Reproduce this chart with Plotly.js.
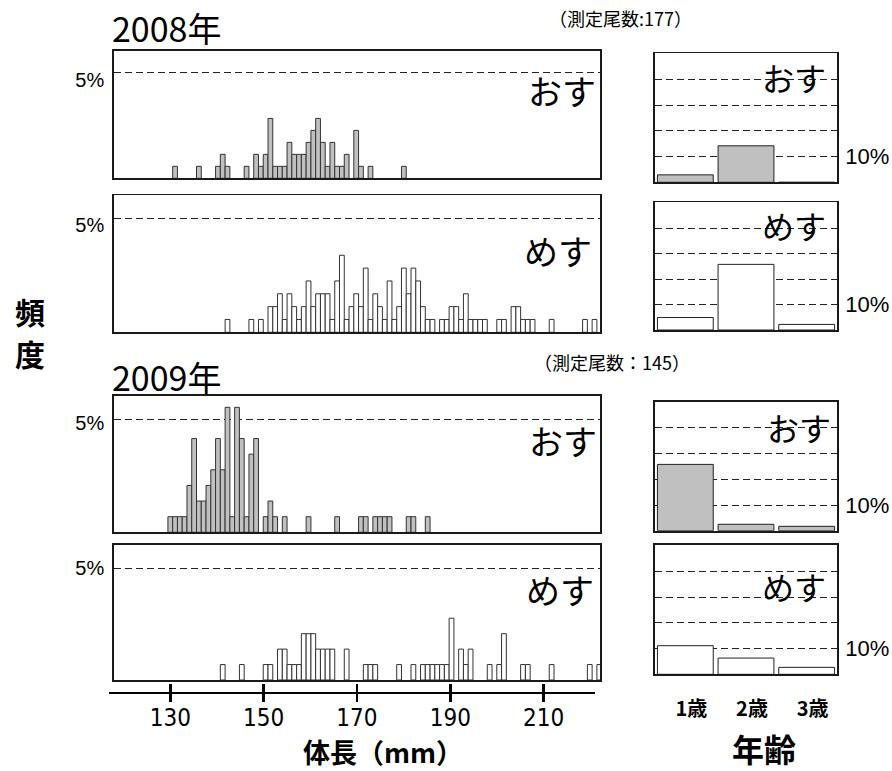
<!DOCTYPE html>
<html><head><meta charset="utf-8">
<script src="https://cdn.plot.ly/plotly-3.0.1.min.js"></script>
<style>html,body{margin:0;padding:0;background:#fff}</style>
</head><body><div id="chart" style="width:892px;height:771px"></div>
<script>
// ---- data ----
const N2008 = 177, N2009 = 145;
const male2008Len = [131,136,140,141,142,146,148,149,150,151,152,153,154,155,156,157,158,159,160,161,162,163,164,165,166,167,169,170,172,179];
const male2008Cnt = [1,1,1,2,1,1,2,1,2,5,1,1,1,3,2,2,2,3,4,5,3,1,3,1,1,2,4,1,1,1];
const female2008Len = [142,147,149,151,152,153,154,155,156,157,158,159,160,161,162,163,164,165,166,167,168,169,170,171,172,173,174,175,176,177,178,179,180,181,182,183,184,185,187,188,189,190,191,192,193,194,195,196,199,200,202,203,204,205,206,210,217,219];
const female2008Cnt = [1,1,1,2,2,3,1,3,2,1,2,4,2,3,3,3,1,4,6,1,2,3,2,5,1,3,2,1,4,1,2,5,3,5,4,2,1,1,1,1,2,2,1,3,1,1,1,1,1,1,2,2,1,1,1,1,1,1];
const male2009Len = [130,131,132,133,134,135,136,137,138,139,140,141,142,143,144,145,146,147,148,150,151,152,154,159,165,170,171,173,174,175,176,180,181,184];
const male2009Cnt = [1,1,1,1,3,6,2,2,3,4,6,4,8,1,8,6,1,5,6,1,2,1,1,1,1,1,1,1,1,1,1,1,1,1];
const female2009Len = [141,145,150,151,153,154,155,156,157,158,159,160,161,162,163,164,167,171,172,173,178,181,183,184,185,186,187,188,189,191,192,193,197,199,200,204,205,210,218,220];
const female2009Cnt = [1,1,1,1,2,2,1,1,1,3,3,3,2,2,2,2,2,1,1,1,1,1,1,1,1,1,1,1,4,2,1,2,1,1,3,1,1,1,1,1];
const ageLabels = ['1歳','2歳','3歳'];
const ageMale2008 = [2.9, 14.2, 0];
const ageFemale2008 = [4.9, 25.8, 2.2];
const ageMale2009 = [25.8, 2.5, 1.7];
const ageFemale2009 = [11.1, 6.3, 2.7];
const rulerTicks = [130,150,170,190,210];

// ---- helpers ----
const W = 892, H = 771;
const px = v => v / W;
const py = v => 1 - v / H;
const pct = (arr, n) => arr.map(c => c / n * 100);
const MALE_FILL = '#c0c0c0', FEMALE_FILL = '#ffffff';
const JP = '"Noto Sans CJK JP", "Noto Sans", sans-serif';
const LAT = '"Liberation Sans", Arial, sans-serif';

function hist(xa, ya, xs, ys, fill) {
  return {type:'bar', x: xs, y: ys, xaxis: xa, yaxis: ya, width: 1,
    marker:{color: fill, line:{color:'#333', width:1}}, hoverinfo:'skip', showlegend:false};
}
function ageBar(xa, ya, ys, fill) {
  return {type:'bar', x:[1,2,3], y: ys, xaxis: xa, yaxis: ya, width: 0.92,
    marker:{color: fill, line:{color:'#222', width:1}}, hoverinfo:'skip', showlegend:false};
}

const traces = [
  hist('x','y', male2008Len, pct(male2008Cnt, N2008), MALE_FILL),
  hist('x2','y2', female2008Len, pct(female2008Cnt, N2008), FEMALE_FILL),
  hist('x3','y3', male2009Len, pct(male2009Cnt, N2009), MALE_FILL),
  hist('x4','y4', female2009Len, pct(female2009Cnt, N2009), FEMALE_FILL),
  ageBar('x5','y5', ageMale2008, MALE_FILL),
  ageBar('x6','y6', ageFemale2008, FEMALE_FILL),
  ageBar('x7','y7', ageMale2009, MALE_FILL),
  ageBar('x8','y8', ageFemale2009, FEMALE_FILL),
  {type:'scatter', x:[], y:[], xaxis:'x9', yaxis:'y9', showlegend:false},
  {type:'scatter', x:[], y:[], xaxis:'x10', yaxis:'y9', showlegend:false}
];

const histX = [px(114), px(600)];
const histRange = [118.19, 220.15];
function hx(anchor){
  return {domain: histX, range: histRange, anchor: anchor, showline:true, mirror:true,
    linecolor:'#1a1a1a', linewidth:1.8, ticks:'', showticklabels:false, showgrid:false, zeroline:false, fixedrange:true};
}
function hy(anchor, top, bottom, shift){
  return {domain:[py(bottom), py(top)], range:[0, 6.03], anchor: anchor, showline:true, mirror:true,
    linecolor:'#1a1a1a', linewidth:1.8, ticks:'', tickvals:[5], ticktext:['5%'],
    ticklabelshift: shift, ticklabelstandoff: 4,
    tickfont:{family: LAT, size:20, color:'#000'},
    showgrid:true, gridcolor:'#222', gridwidth:1, griddash:'7px,4px', zeroline:false, fixedrange:true};
}
const ageX = [px(655), px(837)];
function ax(anchor, showLabels){
  return {domain: ageX, range:[0.5,3.5], anchor: anchor, showline:true, mirror:true,
    linecolor:'#1a1a1a', linewidth:1.8, ticks:'', tickvals:[1,2,3], ticktext: ageLabels.map(s => '<b>'+s+'</b>'),
    showticklabels: showLabels, ticklabelstandoff: 16, ticklabelshift: 6,
    tickfont:{family: JP, size:20, color:'#000'},
    showgrid:false, zeroline:false, fixedrange:true};
}
function ay(anchor, top, bottom){
  return {domain:[py(bottom), py(top)], range:[0, 50.2], anchor: anchor, side:'right', showline:true, mirror:true,
    linecolor:'#1a1a1a', linewidth:1.8, ticks:'', tickvals:[10,20,30,40], ticktext:['10%','','',''],
    ticklabelstandoff: 2,
    tickfont:{family: LAT, size:22, color:'#000'},
    showgrid:true, gridcolor:'#222', gridwidth:1, griddash:'7px,4px', zeroline:false, fixedrange:true};
}

function ann(text, x, y, size, xanchor, bold){
  return {text: bold ? '<b>'+text+'</b>' : text, x: px(x), y: py(y), xref:'paper', yref:'paper',
    xanchor: xanchor, yanchor:'middle', showarrow:false,
    font:{family: JP, size: size, color:'#000'}};
}

const layout = {
  width: W, height: H, margin:{l:0,r:0,t:0,b:0}, paper_bgcolor:'#fff', plot_bgcolor:'#fff',
  bargap: 0, showlegend:false,
  xaxis: hx('y'), yaxis: hy('x', 50.5, 178.3, 8),
  xaxis2: hx('y2'), yaxis2: hy('x2', 195.3, 332.3, 6),
  xaxis3: hx('y3'), yaxis3: hy('x3', 395.7, 532.3, 4),
  xaxis4: hx('y4'), yaxis4: hy('x4', 545, 680, 0),
  xaxis5: ax('y5', false), yaxis5: ay('x5', 53.3, 182.3),
  xaxis6: ax('y6', false), yaxis6: ay('x6', 202.3, 330),
  xaxis7: ax('y7', false), yaxis7: ay('x7', 401.7, 530.7),
  xaxis8: ax('y8', true), yaxis8: ay('x8', 545, 674.3),
  yaxis9: {domain:[py(691.7), py(682)], range:[0,1], visible:false, fixedrange:true},
  xaxis9: {domain:[px(109.3), px(595)], range:[116.94, 221.01], anchor:'y9', side:'bottom',
    showline:true, linecolor:'#000', linewidth:2.5, ticks:'outside', ticklen:8, tickwidth:2.5, tickcolor:'#000',
    tickvals: rulerTicks, ticktext: rulerTicks.map(String), ticklabelstandoff: -5,
    tickfont:{family:'"Liberation Sans Narrow", "DejaVu Sans Condensed", Arial, sans-serif', size:24, color:'#000'},
    showgrid:false, zeroline:false, fixedrange:true},
  xaxis10: {domain:[px(109.3), px(595)], range:[116.94, 221.01], anchor:'y9', overlaying:'x9', side:'bottom',
    showline:false, ticks:'inside', ticklen:8, tickwidth:2.5, tickcolor:'#000',
    tickvals: rulerTicks, showticklabels:false, showgrid:false, zeroline:false, fixedrange:true},
  annotations: [
    ann('2008年', 110, 28, 34, 'left', false),
    ann('（測定尾数:177）', 694, 18, 18, 'right', false),
    ann('2009年', 110, 376, 34, 'left', false),
    ann('（測定尾数：145）', 692, 362, 18, 'right', false),
    ann('頻', 30, 311, 30, 'center', true),
    ann('度', 30, 353, 30, 'center', true),
    ann('体長（mm）', 383, 751, 27, 'center', true),
    ann('年齢', 764, 748, 32, 'center', true),
    ann('おす', 598, 90, 34, 'right', false),
    ann('めす', 594, 250.5, 34, 'right', false),
    ann('おす', 599, 440, 34, 'right', false),
    ann('めす', 596, 589, 34, 'right', false),
    ann('おす', 828, 77.5, 32, 'right', false),
    ann('めす', 828, 225, 32, 'right', false),
    ann('おす', 833, 427, 32, 'right', false),
    ann('めす', 828, 586, 32, 'right', false)
  ]
};

Plotly.newPlot('chart', traces, layout, {displayModeBar:false, staticPlot:true});
</script>
</body></html>
